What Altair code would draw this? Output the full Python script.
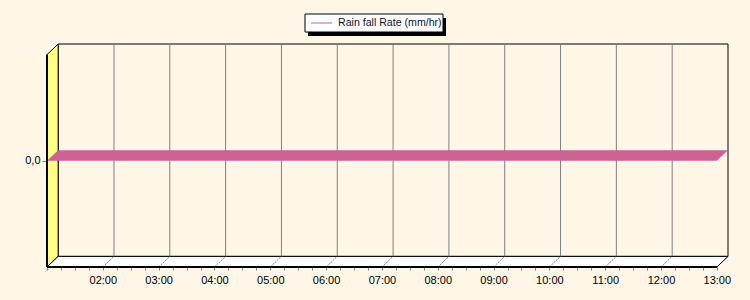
import altair as alt
import pandas as pd
import numpy as np

# ---- data ----
times = ["01:00", "02:00", "03:00", "04:00", "05:00", "06:00", "07:00",
         "08:00", "09:00", "10:00", "11:00", "12:00", "13:00"]
rain_rate = [0.0, 0.0, 0.0, 0.0, 0.0, 0.0, 0.0, 0.0, 0.0, 0.0, 0.0, 0.0, 0.0]
series_name = "Rain fall Rate (mm/hr)"
y_tick_values = [0.0]
y_tick_labels = ["0,0"]

# ---- style ----
BG = "#FEF6E7"
WALL = "#FFFF80"
RIBBON = "#CD6194"
GRID = "#808080"
FONT = "Liberation Sans"

hours = [int(t[:2]) + int(t[3:]) / 60 for t in times]
DH = 0.2   # 3-D depth expressed in hours
DV = 0.1   # 3-D depth expressed in value units
Y_MIN, Y_MAX = -1.0, 1.0
X0, X1 = hours[0], hours[-1]

xs = alt.Scale(domain=[X0, X1 + DH], nice=False, zero=False)
ys = alt.Scale(domain=[Y_MIN, Y_MAX + DV], nice=False, zero=False)

quarter = np.arange(X0, X1 + 0.001, 0.25).tolist()
x_axis = alt.Axis(values=quarter,
                  labelExpr="datum.value % 1 === 0 && datum.value > 1 ? (datum.value < 10 ? '0' : '') + datum.value + ':00' : ''",
                  tickSize=3, tickColor=GRID, labelColor="black", labelFont=FONT,
                  labelFontSize=11, labelPadding=4, domain=False, grid=False, title=None,
                  labelFlush=False, labelOverlap=False)
y_axis = alt.Axis(values=y_tick_values,
                  labelExpr="'" + y_tick_labels[0] + "'",
                  tickSize=5, tickColor=GRID, labelColor="black", labelFont=FONT,
                  labelFontSize=11, labelPadding=2, domain=False, grid=False, title=None)

def X(f):
    return alt.X(f, type="quantitative", scale=xs, axis=x_axis, title=None)

def Y(f):
    return alt.Y(f, type="quantitative", scale=ys, axis=y_axis, title=None)

# back wall
back_df = pd.DataFrame([{"x": X0 + DH, "x2": X1 + DH, "y": Y_MIN + DV, "y2": Y_MAX + DV}])
back = alt.Chart(back_df).mark_rect(fill=BG, stroke="black", strokeWidth=1).encode(
    x=X("x"), x2="x2", y=Y("y"), y2="y2")

# grid lines on the back wall
grid_df = pd.DataFrame({"h": hours[1:-1]})
grid_df["x"] = grid_df["h"] + DH
grid_df["y"] = Y_MIN + DV
grid_df["y2"] = Y_MAX + DV
grid = alt.Chart(grid_df).mark_rule(color=GRID, strokeWidth=1).encode(
    x=X("x"), y=Y("y"), y2="y2")

# left wall
left_df = pd.DataFrame([{"x": X0, "y": Y_MIN, "y2": Y_MAX},
                        {"x": X0 + DH, "y": Y_MIN + DV, "y2": Y_MAX + DV}])
left = alt.Chart(left_df).mark_area(fill=WALL, stroke="black", strokeWidth=1,
                                    orient="vertical").encode(
    x=X("x"), y=Y("y"), y2="y2")

# floor
floor_df = pd.DataFrame([{"x": X0, "y": Y_MIN, "y2": Y_MIN},
                         {"x": X0 + DH, "y": Y_MIN, "y2": Y_MIN + DV},
                         {"x": X1, "y": Y_MIN, "y2": Y_MIN + DV},
                         {"x": X1 + DH, "y": Y_MIN + DV, "y2": Y_MIN + DV}])
floor = alt.Chart(floor_df).mark_area(fill="white", stroke="black", strokeWidth=1,
                                      orient="vertical").encode(
    x=X("x"), y=Y("y"), y2="y2")

# floor diagonals
diag_df = pd.DataFrame({"x": hours[1:-1]})
diag_df["x2"] = diag_df["x"] + DH
diag_df["y"] = Y_MIN
diag_df["y2"] = Y_MIN + DV
diag = alt.Chart(diag_df).mark_rule(color=GRID, strokeWidth=1, strokeDash=[2, 1]).encode(
    x=X("x"), x2="x2", y=Y("y"), y2="y2")

# ribbon (series)
v0, vN = rain_rate[0], rain_rate[-1]
rib_df = pd.DataFrame([{"x": X0, "y": v0, "y2": v0},
                       {"x": X0 + DH, "y": v0, "y2": v0 + DV},
                       {"x": X1, "y": vN, "y2": vN + DV},
                       {"x": X1 + DH, "y": vN + DV, "y2": vN + DV}])
ribbon = alt.Chart(rib_df).mark_area(fill=RIBBON, orient="vertical").encode(
    x=X("x"), y=Y("y"), y2="y2")

# thick front edges
edge_df = pd.DataFrame([{"x": X0, "x2": X1, "y": Y_MIN, "y2": Y_MAX}])
edge_h = alt.Chart(edge_df).mark_rule(color="black", strokeWidth=2).encode(
    x=X("x"), x2="x2", y=Y("y"))
edge_v = alt.Chart(edge_df).mark_rule(color="black", strokeWidth=2).encode(
    x=X("x"), y=Y("y"), y2="y2")

# manual legend
one = pd.DataFrame({"a": [0]})
shadow = alt.Chart(one).mark_rect(fill="black").encode(
    x=alt.value(261), x2=alt.value(399), y=alt.value(-26), y2=alt.value(-8))
box = alt.Chart(one).mark_rect(fill="white", stroke="black", strokeWidth=1).encode(
    x=alt.value(258), x2=alt.value(396), y=alt.value(-30), y2=alt.value(-12))
sample = alt.Chart(one).mark_rule(color=RIBBON, strokeWidth=1).encode(
    x=alt.value(264), x2=alt.value(285), y=alt.value(-21))
label = alt.Chart(one).mark_text(text=series_name, align="left", baseline="middle",
                                 font=FONT, fontSize=10.6, color="#111133").encode(
    x=alt.value(291), y=alt.value(-21))

chart = alt.layer(back, grid, left, floor, diag, ribbon, edge_h, edge_v,
                  shadow, box, sample, label).properties(
    width=681, height=223,
    padding={"left": 47, "top": 44, "right": 22, "bottom": 33},
    autosize="none",
).configure(background=BG, font=FONT).configure_view(stroke=None)

chart.save("out.html", embed_options={"renderer": "svg", "actions": False})
